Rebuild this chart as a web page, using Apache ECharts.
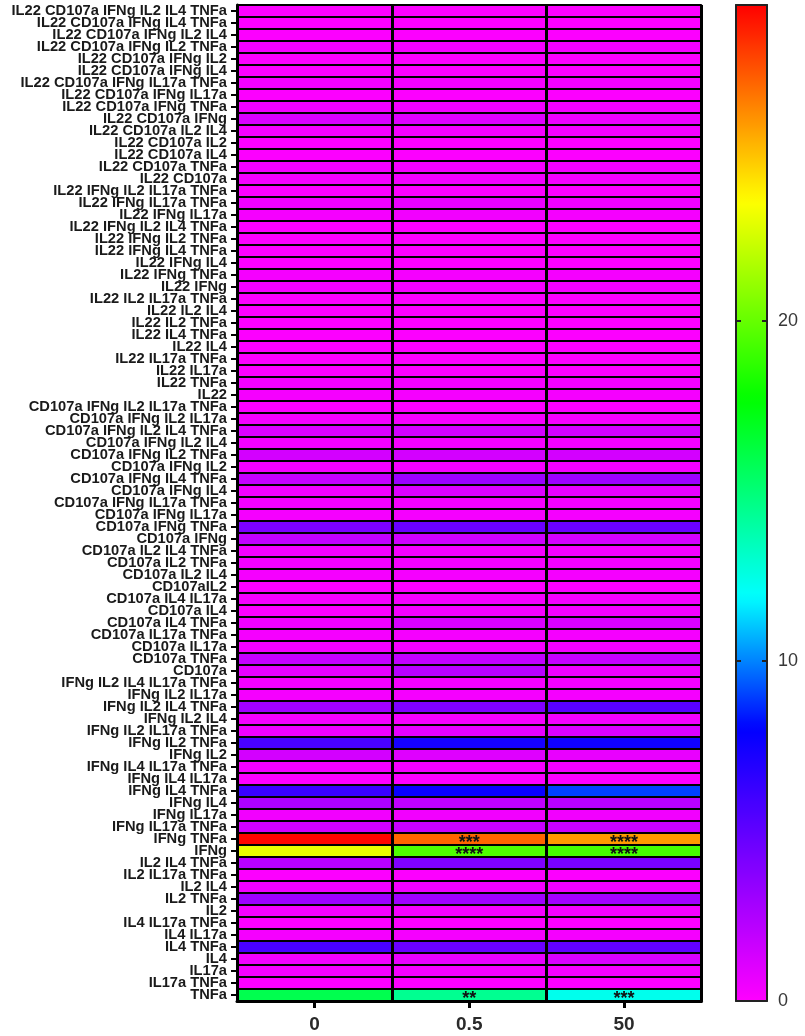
<!DOCTYPE html>
<html>
<head>
<meta charset="utf-8">
<script src="https://cdn.jsdelivr.net/npm/echarts@6/dist/echarts.min.js"></script>
<style>
  html, body { margin: 0; padding: 0; background: #ffffff; }
  #chart { width: 805px; height: 1036px; }
</style>
</head>
<body>
<div id="chart"></div>
<script>
// Dose groups (columns)
const doses = ['0', '0.5', '50'];

// Cytokine-producing subsets (rows, top to bottom)
const subsets = [
  'IL22 CD107a IFNg IL2 IL4 TNFa', 'IL22 CD107a IFNg IL4 TNFa', 'IL22 CD107a IFNg IL2 IL4',
  'IL22 CD107a IFNg IL2 TNFa', 'IL22 CD107a IFNg IL2', 'IL22 CD107a IFNg IL4',
  'IL22 CD107a IFNg IL17a TNFa', 'IL22 CD107a IFNg IL17a', 'IL22 CD107a IFNg TNFa',
  'IL22 CD107a IFNg', 'IL22 CD107a IL2 IL4', 'IL22 CD107a IL2', 'IL22 CD107a IL4',
  'IL22 CD107a TNFa', 'IL22 CD107a', 'IL22 IFNg IL2 IL17a TNFa', 'IL22 IFNg IL17a TNFa',
  'IL22 IFNg IL17a', 'IL22 IFNg IL2 IL4 TNFa', 'IL22 IFNg IL2 TNFa', 'IL22 IFNg IL4 TNFa',
  'IL22 IFNg IL4', 'IL22 IFNg TNFa', 'IL22 IFNg', 'IL22 IL2 IL17a TNFa', 'IL22 IL2 IL4',
  'IL22 IL2 TNFa', 'IL22 IL4 TNFa', 'IL22 IL4', 'IL22 IL17a TNFa', 'IL22 IL17a',
  'IL22 TNFa', 'IL22', 'CD107a IFNg IL2 IL17a TNFa', 'CD107a IFNg IL2 IL17a',
  'CD107a IFNg IL2 IL4 TNFa', 'CD107a IFNg IL2 IL4', 'CD107a IFNg IL2 TNFa',
  'CD107a IFNg IL2', 'CD107a IFNg IL4 TNFa', 'CD107a IFNg IL4', 'CD107a IFNg IL17a TNFa',
  'CD107a IFNg IL17a', 'CD107a IFNg TNFa', 'CD107a IFNg', 'CD107a IL2 IL4 TNFa',
  'CD107a IL2 TNFa', 'CD107a IL2 IL4', 'CD107aIL2', 'CD107a IL4 IL17a', 'CD107a IL4',
  'CD107a IL4 TNFa', 'CD107a IL17a TNFa', 'CD107a IL17a', 'CD107a TNFa', 'CD107a',
  'IFNg IL2 IL4 IL17a TNFa', 'IFNg IL2 IL17a', 'IFNg IL2 IL4 TNFa', 'IFNg IL2 IL4',
  'IFNg IL2 IL17a TNFa', 'IFNg IL2 TNFa', 'IFNg IL2', 'IFNg IL4 IL17a TNFa',
  'IFNg IL4 IL17a', 'IFNg IL4 TNFa', 'IFNg IL4', 'IFNg IL17a', 'IFNg IL17a TNFa',
  'IFNg TNFa', 'IFNg', 'IL2 IL4 TNFa', 'IL2 IL17a TNFa', 'IL2 IL4', 'IL2 TNFa', 'IL2',
  'IL4 IL17a TNFa', 'IL4 IL17a', 'IL4 TNFa', 'IL4', 'IL17a', 'IL17a TNFa', 'TNFa'
];

// Percent of responding cells per subset, one array per dose
const dose0 = [
  0.1, 0.1, 0.1, 0.3, 0.1, 0.1, 0.3, 0.1, 0.4, 1.2,
  0.3, 0.1, 0.1, 0.3, 0.3, 0.1, 0.4, 0.3, 0.1, 0.1,
  0.1, 0.1, 0.3, 0.3, 0.1, 0.1, 0.1, 0.1, 0.1, 0.1,
  0.1, 0.3, 0.3, 0.1, 0.3, 1.1, 0.3, 1.4, 0.3, 1.8,
  0.4, 0.3, 0.3, 4.1, 1.9, 0.3, 0.3, 0.3, 0.1, 0.3,
  0.1, 0.4, 0.3, 0.3, 1.8, 0.8, 0.3, 0.3, 3.0, 0.3,
  0.5, 5.7, 1.4, 0.3, 0.1, 6.2, 2.6, 0.4, 1.4, 29.2,
  23.0, 2.2, 0.1, 0.4, 3.1, 0.3, 0.1, 0.3, 5.7, 0.4,
  0.3, 0.1, 15.9
];
const dose05 = [
  0.1, 0.1, 0.1, 0.3, 0.1, 0.1, 0.3, 0.1, 0.4, 1.0,
  0.3, 0.1, 0.1, 0.3, 0.4, 0.1, 0.7, 0.4, 0.1, 0.1,
  0.1, 0.1, 0.3, 0.3, 0.1, 0.1, 0.1, 0.1, 0.1, 0.1,
  0.1, 0.3, 0.3, 0.1, 0.3, 1.4, 0.3, 1.4, 0.3, 3.1,
  1.1, 0.3, 0.3, 4.7, 1.5, 0.3, 0.3, 0.3, 0.1, 0.3,
  0.3, 1.2, 0.3, 0.3, 1.9, 2.2, 0.3, 0.3, 4.0, 0.3,
  0.8, 7.3, 1.0, 0.3, 0.1, 7.7, 2.0, 0.4, 1.7, 27.0,
  19.5, 4.0, 0.1, 0.4, 3.0, 0.3, 0.1, 0.3, 4.7, 0.7,
  0.3, 0.1, 14.4
];
const dose50 = [
  0.1, 0.1, 0.1, 0.3, 0.1, 0.1, 0.3, 0.1, 0.3, 0.5,
  0.3, 0.1, 0.1, 0.3, 0.3, 0.1, 0.4, 0.3, 0.1, 0.1,
  0.1, 0.1, 0.3, 0.3, 0.1, 0.1, 0.1, 0.1, 0.1, 0.1,
  0.1, 0.3, 0.3, 0.1, 0.3, 1.4, 0.3, 1.4, 0.3, 3.1,
  0.8, 0.3, 0.3, 4.7, 1.4, 0.3, 0.3, 0.3, 0.1, 0.3,
  0.3, 1.2, 0.3, 0.3, 1.8, 0.5, 0.3, 0.3, 5.2, 0.3,
  1.1, 7.5, 0.7, 0.3, 0.1, 9.0, 2.2, 0.4, 1.7, 25.8,
  19.3, 4.2, 0.1, 0.4, 2.9, 0.3, 0.1, 0.3, 4.9, 1.2,
  0.3, 0.1, 12.3
];

// Significance marks versus dose 0
const stars05 = { 'IFNg TNFa': '***', 'IFNg': '****', 'TNFa': '**' };
const stars50 = { 'IFNg TNFa': '****', 'IFNg': '****', 'TNFa': '***' };

// Colour scale: anchor colours and the values they sit at
const scaleMin = 0;
const scaleMax = 29.3;
const scaleTicks = [0, 10, 20];
const rampValues = [0, 8.0, 11.9, 17.7, 23.5, 29.3];
const rampColors = ['#ff00ff', '#0000ff', '#00ffff', '#00ff00', '#ffff00', '#ff0000'];

// Expand the anchors into an evenly spaced colour list for the visualMap
function hexToRgb(h) {
  return [parseInt(h.slice(1, 3), 16), parseInt(h.slice(3, 5), 16), parseInt(h.slice(5, 7), 16)];
}
function rampAt(v) {
  let i = 0;
  while (i < rampValues.length - 2 && v > rampValues[i + 1]) i++;
  const t = Math.min(1, Math.max(0, (v - rampValues[i]) / (rampValues[i + 1] - rampValues[i])));
  const a = hexToRgb(rampColors[i]);
  const b = hexToRgb(rampColors[i + 1]);
  const c = a.map((x, k) => Math.round(x + (b[k] - x) * t));
  return 'rgb(' + c.join(',') + ')';
}
const rampSteps = 294;
const scaleColors = [];
for (let s = 0; s <= rampSteps; s++) {
  scaleColors.push(rampAt(scaleMin + (scaleMax - scaleMin) * s / rampSteps));
}

const columns = [dose0, dose05, dose50];
const columnStars = [{}, stars05, stars50];

const cells = [];
columns.forEach((vals, c) => {
  vals.forEach((v, r) => {
    cells.push({ value: [c, r, v], mark: columnStars[c][subsets[r]] || '' });
  });
});

const chart = echarts.init(document.getElementById('chart'), null, { renderer: 'canvas' });

const labelFont = 'Liberation Sans, Arial, sans-serif';

// Frame lines around the colour legend
const legendFrame = { show: true, onZero: false, lineStyle: { color: '#222', width: 2 } };

const option = {
  backgroundColor: '#ffffff',
  animation: false,
  grid: [
    { left: 237, right: 103.5, top: 5, bottom: 35, containLabel: false },
    { left: 736, width: 31, top: 5, bottom: 35, containLabel: false }
  ],
  xAxis: [
    {
      gridIndex: 0,
      type: 'category',
      data: doses,
      z: 5,
      boundaryGap: true,
      axisLine: { show: true, lineStyle: { color: '#000', width: 3 } },
      axisTick: { show: true, alignWithLabel: true, length: 7, lineStyle: { color: '#000', width: 3 } },
      axisLabel: {
        show: true, margin: 14, color: '#2a2a2a',
        fontFamily: labelFont, fontWeight: 'bold', fontSize: 19
      },
      splitLine: { show: true, interval: 0, lineStyle: { color: '#000', width: 3 } }
    },
    {
      gridIndex: 1, type: 'value', min: 0, max: 1, position: 'bottom', z: 10,
      axisLine: legendFrame,
      axisTick: { show: false }, axisLabel: { show: false }, splitLine: { show: false }
    },
    {
      gridIndex: 1, type: 'value', min: 0, max: 1, position: 'top', z: 10,
      axisLine: legendFrame,
      axisTick: { show: false }, axisLabel: { show: false }, splitLine: { show: false }
    }
  ],
  yAxis: [
    {
      gridIndex: 0,
      type: 'category',
      data: subsets,
      inverse: true,
      z: 5,
      boundaryGap: true,
      axisLine: { show: true, lineStyle: { color: '#000', width: 3 } },
      axisTick: { show: true, interval: 0, alignWithLabel: true, length: 6, lineStyle: { color: '#000', width: 2 } },
      axisLabel: {
        show: true, interval: 0, margin: 10, color: '#1a1a1a',
        fontFamily: labelFont, fontWeight: 'bold', fontSize: 14.7,
        lineHeight: 12
      },
      splitLine: { show: true, interval: 0, lineStyle: { color: '#000', width: 2 } }
    },
    {
      gridIndex: 1, type: 'value', min: scaleMin, max: scaleMax, interval: 10,
      position: 'left', z: 10,
      axisLine: legendFrame,
      axisTick: { show: true, inside: true, length: 5, lineStyle: { color: '#222', width: 2 },
        customValues: scaleTicks.slice(1) },
      axisLabel: { show: false }, splitLine: { show: false }
    },
    {
      gridIndex: 1, type: 'value', min: scaleMin, max: scaleMax, interval: 10,
      position: 'right', z: 10,
      axisLine: legendFrame,
      axisTick: { show: true, inside: true, length: 5, lineStyle: { color: '#222', width: 2 },
        customValues: scaleTicks.slice(1) },
      axisLabel: {
        show: true, margin: 11, color: '#383838', customValues: scaleTicks,
        fontFamily: labelFont, fontSize: 18
      },
      splitLine: { show: false }
    }
  ],
  visualMap: {
    type: 'continuous',
    seriesIndex: 0,
    min: scaleMin,
    max: scaleMax,
    calculable: false,
    hoverLink: false,
    orient: 'vertical',
    left: 736,
    top: 5,
    padding: 0,
    itemWidth: 31,
    itemHeight: 996,
    text: null,
    inRange: { color: scaleColors }
  },
  series: [
    {
      type: 'heatmap',
      xAxisIndex: 0,
      yAxisIndex: 0,
      data: cells,
      itemStyle: { borderColor: '#1a001a', borderWidth: 1 },
      label: {
        show: true,
        formatter: (p) => p.data.mark,
        color: '#111',
        fontFamily: labelFont,
        fontWeight: 'bold',
        fontSize: 18,
        offset: [0, 4]
      },
      emphasis: { disabled: true }
    }
  ]
};

chart.setOption(option);
</script>
</body>
</html>
